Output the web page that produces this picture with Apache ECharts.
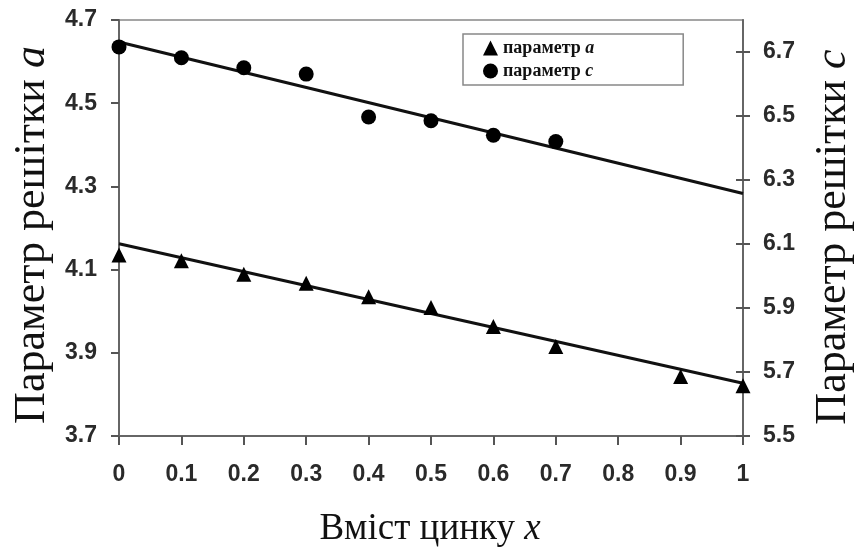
<!DOCTYPE html>
<html>
<head>
<meta charset="utf-8">
<script src="https://cdn.jsdelivr.net/npm/echarts@6/dist/echarts.min.js"></script>
<style>
  html, body { margin: 0; padding: 0; background: #fff; }
  #chart { width: 856px; height: 554px; }
</style>
</head>
<body>
<div id="chart"></div>
<script>
// Zinc content x on the horizontal axis
const zincA = [0, 0.1, 0.2, 0.3, 0.4, 0.5, 0.6, 0.7, 0.9, 1];
const paramA = [4.135, 4.121, 4.089, 4.067, 4.035, 4.009, 3.963, 3.915, 3.843, 3.821];
const zincC = [0, 0.1, 0.2, 0.3, 0.4, 0.5, 0.6, 0.7];
const paramC = [6.716, 6.682, 6.651, 6.631, 6.497, 6.485, 6.44, 6.42];
// Linear trend lines (end points)
const fitX = [0, 1];
const fitA = [4.162, 3.827];
const fitC = [6.731, 6.258];
// Tick values
const leftTicks = [3.7, 3.9, 4.1, 4.3, 4.5, 4.7];
const rightTicks = [5.5, 5.7, 5.9, 6.1, 6.3, 6.5, 6.7];

const pairs = (xs, ys) => xs.map((x, i) => [x, ys[i]]);

const tickLabel = {
  fontFamily: 'Liberation Sans', fontWeight: 'bold', fontSize: 23, color: '#2a2a2a'
};
const axisLine = { show: true, lineStyle: { color: '#666', width: 2 } };

const titleRich = size => ({
  n: { fontFamily: 'Liberation Serif', fontSize: size, fill: '#111' },
  i: { fontFamily: 'Liberation Serif', fontStyle: 'italic', fontSize: size, fill: '#111' }
});

const chart = echarts.init(document.getElementById('chart'), null, { renderer: 'canvas' });
chart.setOption({
  animation: false,
  backgroundColor: '#fff',
  grid: {
    left: 119, right: 113, top: 20, bottom: 118,
    show: true, borderColor: '#888', borderWidth: 1.5
  },
  legend: {
    data: ['параметр a', 'параметр c'],
    orient: 'vertical',
    left: 463, top: 34,
    padding: [5, 89, 5, 20],
    itemGap: 5,
    itemWidth: 15, itemHeight: 15,
    borderColor: '#888', borderWidth: 1.5,
    formatter: name => '{b|параметр }{i|' + name.slice(-1) + '}',
    textStyle: {
      rich: {
        b: { fontFamily: 'Liberation Serif', fontWeight: 'bold', fontSize: 18, color: '#111' },
        i: { fontFamily: 'Liberation Serif', fontWeight: 'bold', fontStyle: 'italic', fontSize: 18, color: '#111' }
      }
    }
  },
  xAxis: {
    type: 'value', min: 0, max: 1, interval: 0.1,
    axisLine: axisLine,
    axisTick: { show: true, inside: false, length: 9, lineStyle: { color: '#555', width: 2 } },
    axisLabel: Object.assign({ margin: 27, formatter: v => String(Math.round(v * 10) / 10) }, tickLabel),
    splitLine: { show: false }
  },
  yAxis: [
    {
      type: 'value', min: 3.7, max: 4.7, position: 'left',
      axisLine: axisLine,
      axisTick: { show: true, inside: false, length: 8, customValues: leftTicks, lineStyle: { color: '#555', width: 2 } },
      axisLabel: Object.assign({ margin: 22, customValues: leftTicks, formatter: v => v.toFixed(1) }, tickLabel),
      splitLine: { show: false }
    },
    {
      type: 'value', min: 5.5, max: 6.8, position: 'right',
      axisLine: axisLine,
      axisTick: { show: true, inside: false, length: 7, customValues: rightTicks, lineStyle: { color: '#555', width: 2 } },
      axisLabel: Object.assign({ margin: 20, customValues: rightTicks, formatter: v => v.toFixed(1) }, tickLabel),
      splitLine: { show: false }
    },
    {
      // inner half of the crossing ticks on the right axis
      type: 'value', min: 5.5, max: 6.8, position: 'right',
      axisLine: { show: false },
      axisTick: { show: true, inside: true, length: 7, customValues: rightTicks, lineStyle: { color: '#555', width: 2 } },
      axisLabel: { show: false },
      splitLine: { show: false }
    }
  ],
  graphic: [
    {
      type: 'text', x: 32, y: 235, rotation: Math.PI / 2,
      style: {
        text: '{n|Параметр решітки }{i|a}',
        align: 'center', verticalAlign: 'middle',
        rich: titleRich(44)
      }
    },
    {
      type: 'text', x: 833, y: 237, rotation: Math.PI / 2,
      style: {
        text: '{n|Параметр решітки }{i|c}',
        align: 'center', verticalAlign: 'middle',
        rich: titleRich(44)
      }
    },
    {
      type: 'text', x: 430, y: 529,
      style: {
        text: '{n|Вміст цинку }{i|x}',
        align: 'center', verticalAlign: 'middle',
        rich: titleRich(37)
      }
    }
  ],
  series: [
    {
      name: 'fit a', type: 'line', yAxisIndex: 0, data: pairs(fitX, fitA),
      symbol: 'none', lineStyle: { color: '#111', width: 3 }, z: 2
    },
    {
      name: 'fit c', type: 'line', yAxisIndex: 1, data: pairs(fitX, fitC),
      symbol: 'none', lineStyle: { color: '#111', width: 3 }, z: 2
    },
    {
      name: 'параметр a', type: 'scatter', yAxisIndex: 0, data: pairs(zincA, paramA),
      symbol: 'triangle', symbolSize: 15, itemStyle: { color: '#000', opacity: 1 }, z: 3
    },
    {
      name: 'параметр c', type: 'scatter', yAxisIndex: 1, data: pairs(zincC, paramC),
      symbol: 'circle', symbolSize: 15, itemStyle: { color: '#000', opacity: 1 }, z: 3
    }
  ]
});
</script>
</body>
</html>
